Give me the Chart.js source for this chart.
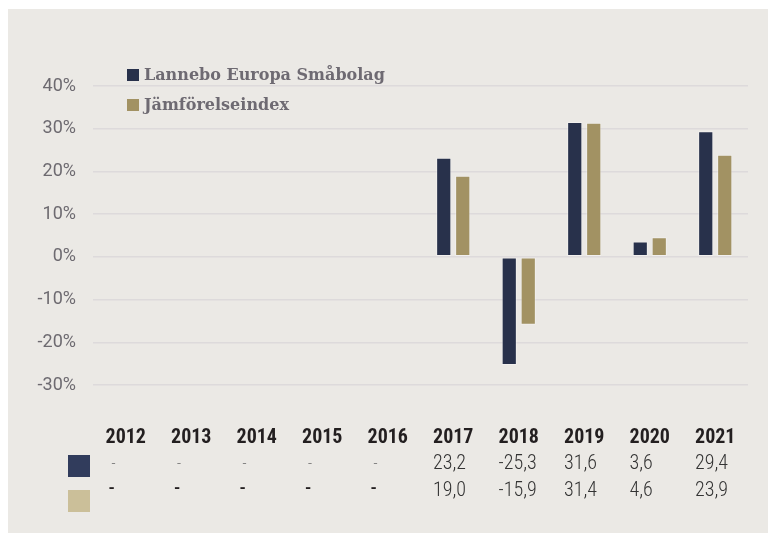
<!DOCTYPE html>
<html>
<head>
<meta charset="utf-8">
<script src="https://cdn.jsdelivr.net/npm/chart.js@4/dist/chart.umd.min.js"></script>
<style>
html,body{margin:0;padding:0;background:#ffffff;}
#wrap{width:768px;height:533px;position:relative;}
</style>
</head>
<body>
<div id="wrap"><canvas id="c" width="768" height="533"></canvas></div>
<script>
const years = ['2012','2013','2014','2015','2016','2017','2018','2019','2020','2021'];
const fundLabel = 'Lannebo Europa Småbolag';
const indexLabel = 'Jämförelseindex';
const fundValues = [null, null, null, null, null, 23.2, -25.3, 31.6, 3.6, 29.4];
const indexValues = [null, null, null, null, null, 19.0, -15.9, 31.4, 4.6, 23.9];
const yTicks = [40, 30, 20, 10, 0, -10, -20, -30];

const fundColor = '#28314b';
const indexColor = '#a29263';
const fundSwatch = '#313c5c';
const indexSwatch = '#cbbf99';

function fmt(v){ return v === null ? '-' : v.toFixed(1).replace('.', ','); }

const panelPlugin = {
  id: 'panel',
  beforeDraw(chart){
    const ctx = chart.ctx;
    ctx.save();
    ctx.fillStyle = '#ebe9e5';
    ctx.fillRect(8, 9, chart.width - 8, chart.height - 9);
    ctx.restore();
  }
};

const legendTablePlugin = {
  id: 'legendTable',
  afterDraw(chart){
    const ctx = chart.ctx;
    const area = chart.chartArea;
    const xs = chart.scales.x;
    ctx.save();
    // legend
    ctx.font = 'bold 16px "Roboto Slab", "DejaVu Serif", serif';
    ctx.textBaseline = 'middle';
    ctx.textAlign = 'left';
    chart.data.datasets.forEach((ds, i) => {
      const y = 75 + i * 30;
      const x = area.left + 34;
      ctx.fillStyle = ds.backgroundColor;
      ctx.fillRect(x, y - 6, 12, 12);
      ctx.fillStyle = '#6e6a72';
      ctx.fillText(ds.label, x + 17, y + 1);
    });
    // table
    const yearY = 438, row1Y = 464, row2Y = 491;
    ctx.fillStyle = fundSwatch;
    ctx.fillRect(area.left - 25, row1Y - 9, 22, 22);
    ctx.fillStyle = indexSwatch;
    ctx.fillRect(area.left - 25, row2Y - 1, 22, 22);
    const yearFont = 'bold 20px "Roboto Condensed", Roboto, sans-serif';
    const valFont = '300 20px "Roboto Condensed", Roboto, sans-serif';
    years.forEach((yr, i) => {
      const cx = xs.getPixelForValue(i);
      ctx.font = yearFont;
      const w = ctx.measureText(yr).width;
      const left = cx - w / 2;
      ctx.fillStyle = '#231f20';
      ctx.textAlign = 'left';
      ctx.fillText(yr, left, yearY);
      const v1 = fundValues[i], v2 = indexValues[i];
      if (v1 === null){
        ctx.font = '300 14px Roboto, sans-serif';
        ctx.fillStyle = '#666';
        ctx.fillText('-', left + 6, row1Y);
      } else {
        ctx.font = valFont;
        ctx.fillStyle = '#333';
        ctx.fillText(fmt(v1), left, row1Y);
      }
      if (v2 === null){
        ctx.font = 'bold 16px Roboto, sans-serif';
        ctx.fillStyle = '#231f20';
        ctx.fillText('-', left + 3, row2Y - 2);
      } else {
        ctx.font = valFont;
        ctx.fillStyle = '#333';
        ctx.fillText(fmt(v2), left, row2Y);
      }
    });
    ctx.restore();
  }
};

new Chart(document.getElementById('c'), {
  type: 'bar',
  data: {
    labels: years,
    datasets: [
      { label: fundLabel, data: fundValues, backgroundColor: fundColor,
        borderColor: 'rgba(255,255,255,0.35)', borderWidth: 1, borderSkipped: false,
        barPercentage: 0.8, categoryPercentage: 0.58 },
      { label: indexLabel, data: indexValues, backgroundColor: indexColor,
        borderColor: 'rgba(255,255,255,0.35)', borderWidth: 1, borderSkipped: false,
        barPercentage: 0.8, categoryPercentage: 0.58 }
    ]
  },
  options: {
    responsive: false,
    animation: false,
    layout: { padding: { top: 86, bottom: 148, right: 20, left: 0 } },
    plugins: { legend: { display: false }, tooltip: { enabled: false } },
    scales: {
      x: { display: false },
      y: {
        min: -30, max: 40,
        afterFit(scale){ scale.width = 93; },
        afterBuildTicks(scale){ scale.ticks = yTicks.map(v => ({ value: v })); },
        border: { display: false },
        grid: { color: '#dddadb', lineWidth: 1.5, drawTicks: false },
        ticks: {
          padding: 17,
          color: '#6d6a70',
          font: { family: 'Roboto', size: 18 },
          callback: v => v + '%'
        }
      }
    }
  },
  plugins: [panelPlugin, legendTablePlugin]
});
</script>
</body>
</html>
